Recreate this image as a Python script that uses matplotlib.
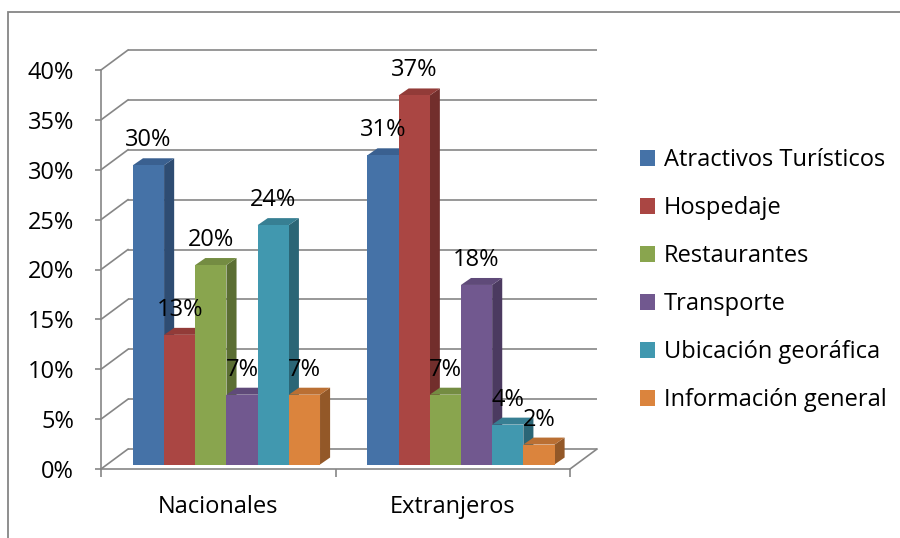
import numpy as np
import matplotlib.pyplot as plt
from matplotlib.patches import Polygon, Patch, Rectangle

plt.rcParams['font.family'] = ['Open Sans', 'DejaVu Sans']

groups = ['Nacionales', 'Extranjeros']
series = ['Atractivos Turísticos', 'Hospedaje', 'Restaurantes', 'Transporte',
          'Ubicación georáfica', 'Información general']
nacionales = [30, 13, 20, 7, 24, 7]
extranjeros = [31, 37, 7, 18, 4, 2]
values = [nacionales, extranjeros]
yticks = [0, 5, 10, 15, 20, 25, 30, 35, 40]

front = ['#4572A7', '#AA4643', '#89A54E', '#71588F', '#4198AF', '#DB843D']
side = ['#2E4C72', '#722E2C', '#5B6E33', '#4B3A60', '#2B6676', '#935828']
top = ['#3A6090', '#923B38', '#748C42', '#5F4A79', '#377F93', '#BA6F33']

grid_c = '#868686'
fs = 17

# oblique offsets: back wall, bar depth, bar shift into the floor
wall_dx, wall_dy = 0.115, 2.0
bar_dx, bar_dy = 0.043, 0.7
shift_dx, shift_dy = 0.035, 0.45
bar_w = 0.133

fig = plt.figure(figsize=(9, 5.38), dpi=100)
ax = fig.add_axes([101 / 900, (538 - 469) / 538, 469 / 900, 399 / 538])
ax.set_xlim(0, 2)
ax.set_ylim(0, 40)
ax.patch.set_visible(False)

# walls
for t in yticks:
    ax.plot([wall_dx, 2 + wall_dx], [t + wall_dy, t + wall_dy], color=grid_c, lw=1.2,
            clip_on=False, zorder=1, solid_capstyle='butt')
    ax.plot([0, wall_dx], [t, t + wall_dy], color=grid_c, lw=1.2, clip_on=False, zorder=1)
ax.plot([2, 2 + wall_dx], [0, wall_dy], color=grid_c, lw=1.2, clip_on=False, zorder=1)

# bars
for g, vals in enumerate(values):
    x0 = g + 0.535 - 3 * bar_w
    for i, v in enumerate(vals):
        xl = x0 + i * bar_w
        xr = xl + bar_w
        b = shift_dy
        h = v + shift_dy
        ax.add_patch(Polygon([(xr, b), (xr + bar_dx, b + bar_dy), (xr + bar_dx, h + bar_dy), (xr, h)],
                             closed=True, fc=side[i], ec='none', clip_on=False, zorder=3))
        ax.add_patch(Polygon([(xl, h), (xl + bar_dx, h + bar_dy), (xr + bar_dx, h + bar_dy), (xr, h)],
                             closed=True, fc=top[i], ec='none', clip_on=False, zorder=3))
        ax.add_patch(Rectangle((xl, b), bar_w, v, fc=front[i], ec='none', clip_on=False, zorder=3))
        ax.text(xl + bar_w / 2, h + 2.5, f'{v}%', ha='center', va='center', fontsize=fs,
                color='black', zorder=5)

# axes lines and ticks
for s in ['top', 'right']:
    ax.spines[s].set_visible(False)
for s in ['left', 'bottom']:
    ax.spines[s].set_color(grid_c)
    ax.spines[s].set_linewidth(1.2)
ax.set_yticks(yticks)
ax.set_yticklabels([f'{t}%' for t in yticks], fontsize=fs)
ax.tick_params(axis='y', direction='out', length=4.5, width=1.2, color=grid_c, pad=15)
ax.set_xticks([0, 1, 2])
ax.set_xticklabels([])
ax.tick_params(axis='x', which='major', direction='out', length=6, width=1.2, color=grid_c)
ax.set_xticks([0.5, 1.5], minor=True)
ax.set_xticklabels(groups, minor=True, fontsize=fs)
ax.tick_params(axis='x', which='minor', length=0, pad=19)

# legend
handles = [Patch(fc=c, ec='none') for c in front]
fig.legend(handles, series, loc='upper left', bbox_to_anchor=(640 / 900, 1 - 148 / 538),
           frameon=False, fontsize=fs, handlelength=0.65, handleheight=0.65,
           handletextpad=0.35, labelspacing=1.02, borderaxespad=0, borderpad=0)

# chart border
fig.add_artist(Rectangle((8 / 900, -0.1), 1.1, 1.1 - 12.5 / 538, transform=fig.transFigure,
                         fill=False, ec=grid_c, lw=1.3))

fig.savefig('out.png', dpi=100)
